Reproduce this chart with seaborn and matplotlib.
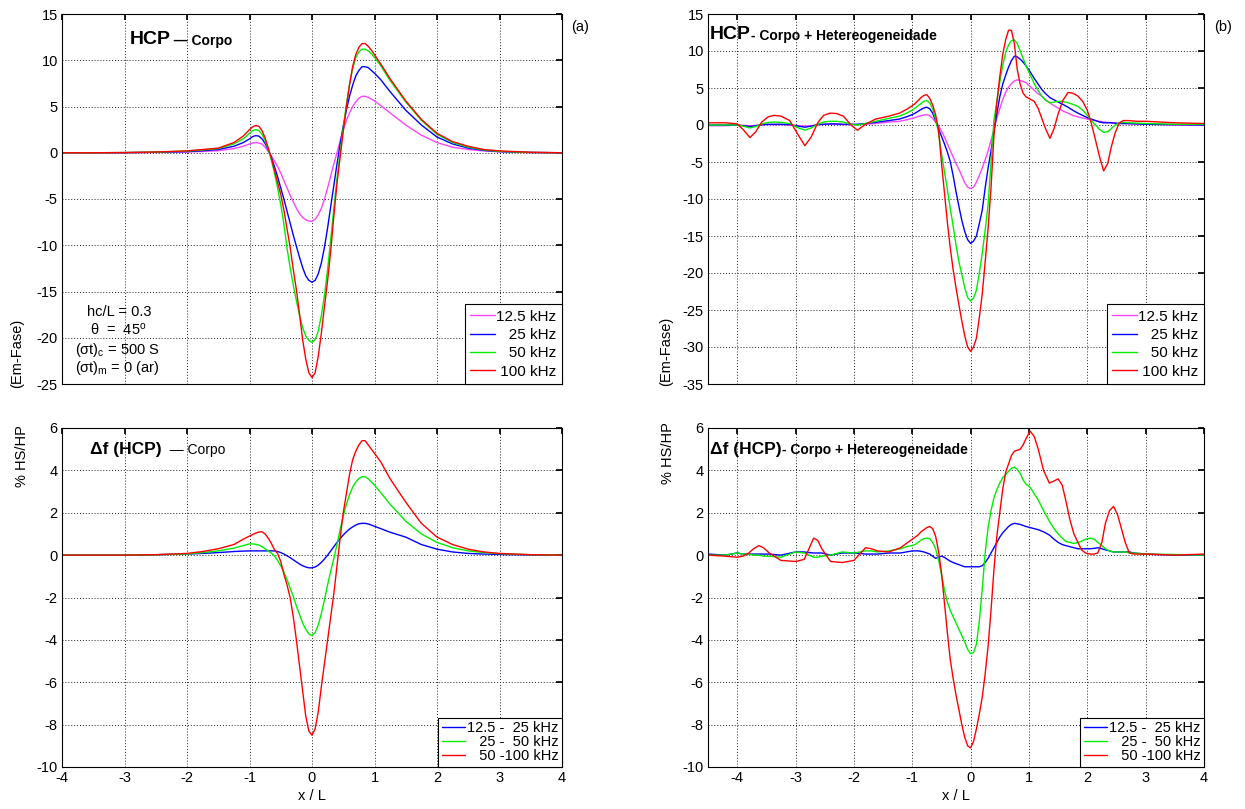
import matplotlib
matplotlib.use("Agg")
import matplotlib.pyplot as plt
import seaborn as sns

# ---- data ----------------------------------------------------------------
# (a) HCP - Corpo   and   (c) Delta f (HCP) - Corpo  share this x list
xa = [-4, -3.5, -3, -2.5, -2, -1.75, -1.5, -1.25, -1.1,
      -1.0, -0.95, -0.9, -0.85, -0.8, -0.75, -0.7, -0.65, -0.6, -0.55, -0.5,
      -0.45, -0.4, -0.35, -0.3, -0.25, -0.2, -0.15, -0.1, -0.05, 0,
      0.05, 0.1, 0.15, 0.2, 0.25, 0.3, 0.35, 0.4, 0.45, 0.5,
      0.55, 0.6, 0.65, 0.7, 0.75, 0.8, 0.85, 0.9, 0.95, 1.0,
      1.1, 1.25, 1.5, 1.75, 2, 2.25, 2.5, 2.75, 3, 3.5, 4]
a_125 = [0, 0, 0.01, 0.03, 0.08, 0.14, 0.22, 0.45, 0.7,
         0.95, 1.05, 1.1, 1.05, 0.95, 0.6, 0.15, -0.35, -0.9, -1.5, -2.2,
         -3.0, -3.8, -4.6, -5.3, -6.0, -6.6, -7.0, -7.25, -7.4, -7.4,
         -7.2, -6.7, -6.0, -5.0, -3.8, -2.5, -1.2, 0.0, 1.3, 2.5,
         3.5, 4.3, 5.0, 5.5, 5.9, 6.1, 6.1, 6.0, 5.8, 5.6,
         5.1, 4.3, 3.0, 1.9, 1.1, 0.6, 0.35, 0.2, 0.1, 0.02, 0]
a_25 = [0, 0, 0.01, 0.05, 0.12, 0.22, 0.35, 0.7, 1.1,
        1.5, 1.75, 1.85, 1.8, 1.5, 1.0, 0.3, -0.5, -1.5, -2.6, -3.8,
        -5.0, -6.3, -7.6, -8.9, -10.1, -11.3, -12.4, -13.3, -13.8, -14.0,
        -13.8, -13.1, -11.9, -10.2, -8.1, -5.8, -3.5, -1.2, 0.9, 2.9,
        4.6, 6.1, 7.3, 8.3, 8.9, 9.3, 9.3, 9.2, 8.9, 8.6,
        7.9, 6.6, 4.6, 3.0, 1.7, 0.95, 0.5, 0.25, 0.12, 0.03, 0]
a_50 = [0, 0, 0.02, 0.07, 0.18, 0.3, 0.45, 0.95, 1.5,
        2.1, 2.4, 2.5, 2.4, 2.0, 1.3, 0.4, -0.8, -2.2, -3.8, -5.6,
        -7.7, -10.3, -12.4, -14.3, -16.0, -17.6, -18.9, -19.8, -20.3, -20.5,
        -20.2, -19.3, -17.6, -15.4, -12.6, -9.3, -6.0, -2.8, 0.0, 2.7,
        5.2, 7.4, 9.1, 10.3, 10.9, 11.2, 11.2, 11.0, 10.7, 10.3,
        9.4, 7.8, 5.5, 3.5, 2.0, 1.1, 0.6, 0.3, 0.15, 0.03, 0]
a_100 = [0, 0, 0.02, 0.08, 0.2, 0.35, 0.5, 1.1, 1.8,
         2.5, 2.8, 2.95, 2.85, 2.4, 1.6, 0.5, -0.6, -1.9, -3.2, -4.5,
         -6.2, -8.2, -10.2, -12.6, -14.8, -17.4, -20.2, -22.3, -23.8, -24.3,
         -23.8, -22.0, -19.5, -16.6, -13.8, -10.6, -6.8, -3.3, -0.5, 2.3,
         5.0, 7.3, 9.3, 10.6, 11.4, 11.8, 11.8, 11.5, 11.1, 10.6,
         9.6, 8.0, 5.6, 3.6, 2.1, 1.2, 0.7, 0.35, 0.2, 0.05, 0]

c_12 = [0, 0, 0, 0.02, 0.05, 0.08, 0.12, 0.17, 0.19,
        0.2, 0.2, 0.2, 0.2, 0.2, 0.2, 0.2, 0.2, 0.2, 0.17, 0.12,
        0.05, -0.03, -0.12, -0.22, -0.32, -0.42, -0.5, -0.56, -0.6, -0.6,
        -0.56, -0.47, -0.34, -0.18, 0.0, 0.2, 0.4, 0.6, 0.78, 0.95,
        1.1, 1.23, 1.33, 1.42, 1.48, 1.5, 1.5, 1.47, 1.42, 1.36,
        1.25, 1.08, 0.85, 0.5, 0.28, 0.15, 0.08, 0.05, 0.03, 0.01, 0]
c_25 = [0, 0, 0, 0.02, 0.05, 0.12, 0.2, 0.33, 0.45,
        0.53, 0.53, 0.51, 0.47, 0.4, 0.3, 0.2, 0.1, -0.05, -0.25, -0.5,
        -0.8, -1.15, -1.55, -1.95, -2.4, -2.8, -3.2, -3.5, -3.72, -3.8,
        -3.65, -3.3, -2.75, -2.1, -1.4, -0.75, -0.15, 0.5, 1.2, 1.85,
        2.4, 2.85, 3.2, 3.45, 3.62, 3.7, 3.7, 3.6, 3.45, 3.3,
        2.95, 2.4, 1.6, 1.0, 0.6, 0.35, 0.2, 0.12, 0.07, 0.02, 0]
c_50 = [0, 0, 0, 0.02, 0.08, 0.17, 0.3, 0.5, 0.75,
        0.9, 0.97, 1.04, 1.09, 1.1, 1.0, 0.8, 0.55, 0.25, 0.07, -0.3,
        -0.9, -1.4, -2.0, -2.9, -4.0, -5.2, -6.4, -7.6, -8.3, -8.5,
        -8.2, -7.4, -6.2, -5.1, -4.0, -2.9, -1.8, -0.5, 0.8, 2.0,
        2.9, 3.8, 4.5, 4.9, 5.2, 5.4, 5.4, 5.2, 5.0, 4.8,
        4.4, 3.6, 2.5, 1.5, 0.85, 0.5, 0.28, 0.15, 0.08, 0.02, 0]

# (b) HCP - Corpo + Hetereogeneidade
xb = [-4.5, -4.2, -4.0, -3.9, -3.78, -3.68, -3.58, -3.47, -3.37, -3.25,
      -3.1, -2.95, -2.84, -2.73, -2.62, -2.52, -2.41, -2.3, -2.18, -2.05,
      -1.94, -1.8, -1.63, -1.4, -1.22, -1.1, -1.0,
      -0.95, -0.9, -0.85, -0.8, -0.75, -0.7, -0.65, -0.6, -0.55, -0.5,
      -0.45, -0.4, -0.35, -0.3, -0.25, -0.2, -0.15, -0.1, -0.05, 0,
      0.05, 0.1, 0.15, 0.2, 0.25, 0.3, 0.35, 0.4, 0.45, 0.5,
      0.55, 0.6, 0.65, 0.7, 0.75, 0.8, 0.85, 0.9, 0.95,
      1.02, 1.09, 1.16, 1.22, 1.29, 1.36, 1.43, 1.5, 1.58, 1.67,
      1.75, 1.84, 1.92, 2.0, 2.07, 2.14, 2.21, 2.28, 2.35, 2.41,
      2.48, 2.55, 2.62, 2.7, 2.85, 3.0, 3.5, 4.0]
b_125 = [-0.1, -0.1, 0, -0.05, -0.1, -0.05, 0, 0.05, 0.05, 0.05,
         0.0, -0.1, -0.15, -0.1, 0.05, 0.1, 0.1, 0.1, 0.05, 0.05,
         0.05, 0.1, 0.2, 0.4, 0.5, 0.7, 0.9,
         1.0, 1.15, 1.25, 1.35, 1.4, 1.25, 0.9, 0.4, -0.1, -0.8,
         -1.6, -2.5, -3.4, -4.3, -5.2, -6.0, -6.9, -7.8, -8.4, -8.6,
         -8.4, -7.7, -6.8, -5.8, -4.7, -3.5, -2.1, -0.6, 0.9, 2.2,
         3.4, 4.4, 5.1, 5.6, 5.95, 6.1, 6.0, 5.9, 5.7,
         5.2, 4.7, 4.2, 3.9, 3.4, 3.0, 2.6, 2.3, 1.9, 1.6,
         1.3, 1.1, 0.95, 0.8, 0.7, 0.6, 0.5, 0.4, 0.35, 0.3,
         0.25, 0.2, 0.2, 0.15, 0.12, 0.1, 0.0, -0.05]
b_25 = [0, 0, 0, -0.1, -0.2, -0.1, 0.05, 0.1, 0.1, 0.1,
        0.05, -0.15, -0.3, -0.15, 0.05, 0.1, 0.15, 0.15, 0.1, 0.1,
        0.1, 0.2, 0.35, 0.6, 0.8, 1.1, 1.4,
        1.6, 1.85, 2.1, 2.3, 2.4, 2.2, 1.6, 0.6, -0.5, -1.5,
        -2.5, -3.6, -4.9, -6.8, -9.0, -11.0, -12.9, -14.4, -15.5, -16.0,
        -15.7, -15.0, -13.3, -11.5, -8.5, -5.8, -3.5, -0.8, 1.5, 3.8,
        5.5, 6.7, 7.8, 8.7, 9.3, 9.2, 8.9, 8.5, 8.0,
        7.2, 6.3, 5.5, 4.8, 4.2, 3.7, 3.4, 3.1, 2.8, 2.4,
        2.0, 1.6, 1.3, 1.0, 0.8, 0.6, 0.4, 0.3, 0.3, 0.3,
        0.25, 0.2, 0.2, 0.2, 0.15, 0.1, 0.05, 0]
b_50 = [0, 0, 0, -0.15, -0.4, -0.2, 0.15, 0.35, 0.4, 0.35,
        0.2, -0.4, -0.7, -0.4, 0.1, 0.4, 0.5, 0.5, 0.4, 0.1,
        0.0, 0.2, 0.5, 0.9, 1.2, 1.6, 2.0,
        2.3, 2.6, 2.9, 3.2, 3.3, 3.0, 2.2, 0.8, -1.0, -3.8,
        -6.2, -8.6, -11.2, -13.6, -16.2, -18.5, -20.2, -22.0, -23.3, -23.8,
        -23.4, -22.3, -20.0, -17.3, -14.2, -10.8, -5.0, 0.6, 3.2, 5.8,
        8.0, 9.8, 10.8, 11.4, 11.5, 11.0, 10.0, 9.0, 8.0,
        6.8, 5.6, 4.6, 3.9, 3.3, 3.0, 3.1, 3.2, 3.2, 3.0,
        2.8, 2.5, 2.0, 1.3, 0.6, 0.0, -0.6, -1.0, -0.9, -0.5,
        0.0, 0.3, 0.35, 0.3, 0.25, 0.2, 0.1, 0.1]
b_100 = [0.3, 0.3, 0.15, -0.6, -1.7, -0.9, 0.4, 1.1, 1.3, 1.2,
         0.6, -1.4, -2.8, -1.6, 0.3, 1.3, 1.6, 1.55, 1.2, 0.0,
         -0.7, 0.1, 0.8, 1.2, 1.6, 2.1, 2.6,
         2.9, 3.3, 3.7, 4.0, 4.1, 3.6, 2.7, 1.4, -0.6, -5.0,
         -9.0, -13.0, -16.5, -19.5, -22.0, -24.3, -26.5, -28.5, -30.0, -30.6,
         -30.0, -28.8, -26.0, -22.8, -18.5, -14.0, -8.5, -1.5, 3.0, 6.5,
         9.5, 11.5, 12.8, 12.8, 11.0, 7.5, 5.5, 4.3, 3.8,
         3.5, 3.2, 2.2, 0.9, -0.6, -1.8, -0.5, 1.5, 3.3, 4.4,
         4.3, 3.9, 3.2, 2.0, 0.2, -2.0, -4.3, -6.2, -5.2, -3.0,
         -1.0, 0.3, 0.6, 0.6, 0.5, 0.5, 0.3, 0.2]

# (d) Delta f (HCP) - Corpo + Hetereogeneidade
xd = [-4.5, -4.2, -4.0, -3.9, -3.8, -3.72, -3.63, -3.55, -3.45, -3.25,
      -3.0, -2.85, -2.77, -2.69, -2.62, -2.55, -2.4, -2.2, -2.0, -1.9,
      -1.8, -1.7, -1.6, -1.4, -1.2, -1.1, -1.0,
      -0.95, -0.9, -0.85, -0.8, -0.75, -0.7, -0.65, -0.6, -0.55, -0.5,
      -0.45, -0.4, -0.35, -0.3, -0.25, -0.2, -0.15, -0.1, -0.05, 0,
      0.05, 0.1, 0.15, 0.2, 0.25, 0.3, 0.35, 0.4, 0.45, 0.5,
      0.55, 0.6, 0.65, 0.7, 0.75, 0.8, 0.85, 0.9, 0.95,
      1.02, 1.09, 1.16, 1.25, 1.35, 1.43, 1.5, 1.57, 1.63, 1.7,
      1.77, 1.84, 1.9, 1.97, 2.05, 2.12, 2.18, 2.25, 2.31, 2.38,
      2.45, 2.52, 2.59, 2.65, 2.72, 2.8, 3.0, 3.5, 4.0]
d_12 = [0.05, 0.0, 0.1, 0.05, 0.05, 0.05, 0.05, 0.05, 0.05, 0.0,
        0.15, 0.15, 0.12, 0.1, 0.1, 0.1, 0.0, 0.1, 0.1, 0.08,
        0.05, 0.05, 0.05, 0.1, 0.1, 0.15, 0.2,
        0.2, 0.2, 0.18, 0.15, 0.1, 0.05, -0.05, -0.15, -0.1, -0.05,
        -0.1, -0.2, -0.28, -0.35, -0.4, -0.45, -0.5, -0.55, -0.55, -0.55,
        -0.55, -0.55, -0.55, -0.5, -0.35, -0.15, 0.1, 0.35, 0.6, 0.85,
        1.05, 1.2, 1.35, 1.45, 1.5, 1.48, 1.45, 1.4, 1.35,
        1.3, 1.25, 1.2, 1.1, 0.95, 0.75, 0.6, 0.5, 0.45, 0.4,
        0.35, 0.3, 0.3, 0.3, 0.3, 0.32, 0.35, 0.3, 0.25, 0.2,
        0.15, 0.15, 0.15, 0.15, 0.15, 0.1, 0.05, 0.0, 0.0]
d_25 = [0, 0.0, 0.1, 0.05, 0.05, 0.0, 0.0, -0.05, -0.05, -0.1,
        0.15, 0.1, 0.0, -0.1, -0.1, -0.05, 0.0, 0.15, 0.1, 0.15,
        0.2, 0.2, 0.15, 0.2, 0.3, 0.4, 0.45,
        0.5, 0.6, 0.7, 0.78, 0.8, 0.78, 0.6, 0.3, -0.2, -0.9,
        -1.6, -2.2, -2.6, -2.9, -3.2, -3.5, -3.8, -4.1, -4.45, -4.65,
        -4.6, -4.2, -3.1, -1.6, 0.1, 1.3, 2.1, 2.7, 3.1, 3.4,
        3.65, 3.8, 3.95, 4.1, 4.15, 4.05, 3.85, 3.55, 3.35,
        3.2, 2.9, 2.6, 2.1, 1.6, 1.25, 1.0, 0.8, 0.65, 0.6,
        0.55, 0.6, 0.65, 0.75, 0.8, 0.75, 0.6, 0.45, 0.3, 0.2,
        0.15, 0.15, 0.15, 0.15, 0.1, 0.1, 0.05, 0.03, 0.0]
d_50 = [0.0, -0.05, -0.1, -0.05, 0.1, 0.3, 0.45, 0.35, 0.1, -0.25,
        -0.3, -0.2, 0.3, 0.8, 0.7, 0.3, -0.3, -0.35, -0.25, 0.05,
        0.35, 0.3, 0.2, 0.15, 0.35, 0.55, 0.75,
        0.85, 0.95, 1.1, 1.2, 1.3, 1.35, 1.25, 0.9, 0.2, -0.8,
        -2.2, -3.6, -4.9, -5.8, -6.6, -7.3, -8.0, -8.6, -9.0, -9.1,
        -8.8, -8.2, -7.5, -6.7, -5.6, -4.3, -2.6, -0.7, 0.9, 2.0,
        3.1, 3.9, 4.3, 4.7, 4.9, 4.95, 5.0, 5.2, 5.5,
        5.85, 5.6, 5.0, 4.0, 3.4, 3.5, 3.6, 3.3, 2.6, 1.7,
        1.0, 0.6, 0.25, 0.1, 0.05, 0.05, 0.1, 0.6, 1.5, 2.1,
        2.3, 1.9, 1.2, 0.6, 0.1, 0.05, 0.05, 0.0, 0.05]

freq_labels = ["12.5 kHz", "\u2007\u200825 kHz", "\u2007\u200850 kHz", "\u2008100 kHz"]
diff_labels = ["12.5 -  25 kHz", "\u2007\u200825 -  50 kHz", "\u2007\u200850 -100 kHz"]
freq_colors = ["#ff44ff", "#0000ff", "#00ee00", "#ff0000"]
diff_colors = ["#0000ff", "#00ee00", "#ff0000"]

# ---- style ---------------------------------------------------------------
sns.set_theme(style="white")
plt.rcParams["font.family"] = ["Liberation Sans", "DejaVu Sans"]
plt.rcParams["mathtext.default"] = "regular"
plt.rcParams["axes.unicode_minus"] = False
plt.rcParams["text.color"] = "black"
plt.rcParams["axes.labelcolor"] = "black"

fig = plt.figure(figsize=(12.45, 8.09), dpi=100)
W, H = 1245, 809


def box(l, t, r, b):
    return [l / W, 1 - b / H, (r - l) / W, (b - t) / H]


ax_a = fig.add_axes(box(62, 14, 562, 384))
ax_b = fig.add_axes(box(708, 14, 1204, 384))
ax_c = fig.add_axes(box(62, 428, 562, 767))
ax_d = fig.add_axes(box(708, 428, 1204, 767))


def draw(ax, x, series, labels, colors):
    for y, lab, col in zip(series, labels, colors):
        sns.lineplot(x=x, y=y, ax=ax, color=col, label=lab, linewidth=1.0,
                     estimator=None, sort=False)


draw(ax_a, xa, [a_125, a_25, a_50, a_100], freq_labels, freq_colors)
draw(ax_b, xb, [b_125, b_25, b_50, b_100], freq_labels, freq_colors)
draw(ax_c, xa, [c_12, c_25, c_50], diff_labels, diff_colors)
draw(ax_d, xd, [d_12, d_25, d_50], diff_labels, diff_colors)

ax_a.set(xlim=(-4, 4), ylim=(-25, 15), yticks=range(-25, 16, 5))
ax_b.set(xlim=(-4.5, 4), ylim=(-35, 15), yticks=range(-35, 16, 5))
ax_c.set(xlim=(-4, 4), ylim=(-10, 6), yticks=range(-10, 7, 2))
ax_d.set(xlim=(-4.5, 4), ylim=(-10, 6), yticks=range(-10, 7, 2))

for ax in (ax_a, ax_b, ax_c, ax_d):
    ax.set_xticks(range(-4, 5))
    ax.grid(True, color="#222222", linestyle=(0, (1, 2)), linewidth=0.7)
    ax.set_axisbelow(True)
    ax.tick_params(direction="in", length=4, labelsize=10.5, pad=3,
                   top=True, right=True, colors="black")
    for s in ax.spines.values():
        s.set_color("black")
        s.set_linewidth(0.8)
    ax.set_ylabel("")
    ax.set_xlabel("")

for ax in (ax_a, ax_b):
    ax.tick_params(labelbottom=False)
    ax.legend(loc="lower right", borderaxespad=0, fancybox=False, framealpha=1,
              edgecolor="black", fontsize=11, handlelength=1.6, handletextpad=0.1,
              labelspacing=0.28, borderpad=0.35)

for ax in (ax_c, ax_d):
    ax.set_xlabel("x / L", fontsize=10.5, labelpad=3)
    ax.legend(loc="lower right", borderaxespad=0, fancybox=False, framealpha=1,
              edgecolor="black", fontsize=10.5, handlelength=1.6, handletextpad=0.1,
              labelspacing=0.0, borderpad=0.25)

for ax in (ax_a, ax_b, ax_c, ax_d):
    ax.get_legend().get_frame().set_linewidth(0.8)


def title(ax, x, y, parts):
    prev = ax.text(x, y, parts[0][0], transform=ax.transAxes, fontsize=parts[0][1],
                   fontweight=parts[0][2], va="baseline", ha="left")
    for txt, size, weight in parts[1:]:
        prev = ax.annotate(txt, xy=(1, 0), xycoords=prev, fontsize=size,
                           fontweight=weight, va="bottom", ha="left")


title(ax_a, 0.136, 0.918, [("HCP", 14, "bold"), ("\u2009\u2014 Corpo", 10, "bold")])
title(ax_b, 0.004, 0.933, [("HCP", 14, "bold"), ("- Corpo + Hetereogeneidade", 10, "bold")])
title(ax_c, 0.056, 0.922, [("\u0394f (HCP)", 12.5, "bold"), ("  \u2014 Corpo", 10, "normal")])
title(ax_d, 0.004, 0.922, [("\u0394f (HCP)", 12.5, "bold"),
                           ("- Corpo + Hetereogeneidade", 10, "bold")])

# model parameters in panel (a)
ax_a.text(0.05, 0.195, "hc/L = 0.3", transform=ax_a.transAxes, fontsize=10.5, va="center")
ax_a.text(0.056, 0.146, "\u03b8  =  45$^o$", transform=ax_a.transAxes, fontsize=10.5, va="center")
ax_a.text(0.026, 0.092, "(\u03c3t)$_c$ = 500 S", transform=ax_a.transAxes, fontsize=10.5, va="center")
ax_a.text(0.026, 0.043, "(\u03c3t)$_m$ = 0 (ar)", transform=ax_a.transAxes, fontsize=10.5, va="center")

fig.text(580 / W, 1 - 27 / H, "(a)", fontsize=10.5, ha="center", va="center")
fig.text(1223 / W, 1 - 27 / H, "(b)", fontsize=10.5, ha="center", va="center")

fig.text(17 / W, 1 - 353 / H, "(Em-Fase)", rotation=90, fontsize=10.5, ha="center", va="center")
fig.text(666 / W, 1 - 351 / H, "(Em-Fase)", rotation=90, fontsize=10.5, ha="center", va="center")
fig.text(22 / W, 1 - 456 / H, "% HS/HP", rotation=90, fontsize=10.5, ha="center", va="center")
fig.text(668 / W, 1 - 453 / H, "% HS/HP", rotation=90, fontsize=10.5, ha="center", va="center")

fig.savefig("out.png", dpi=100, facecolor="white")
